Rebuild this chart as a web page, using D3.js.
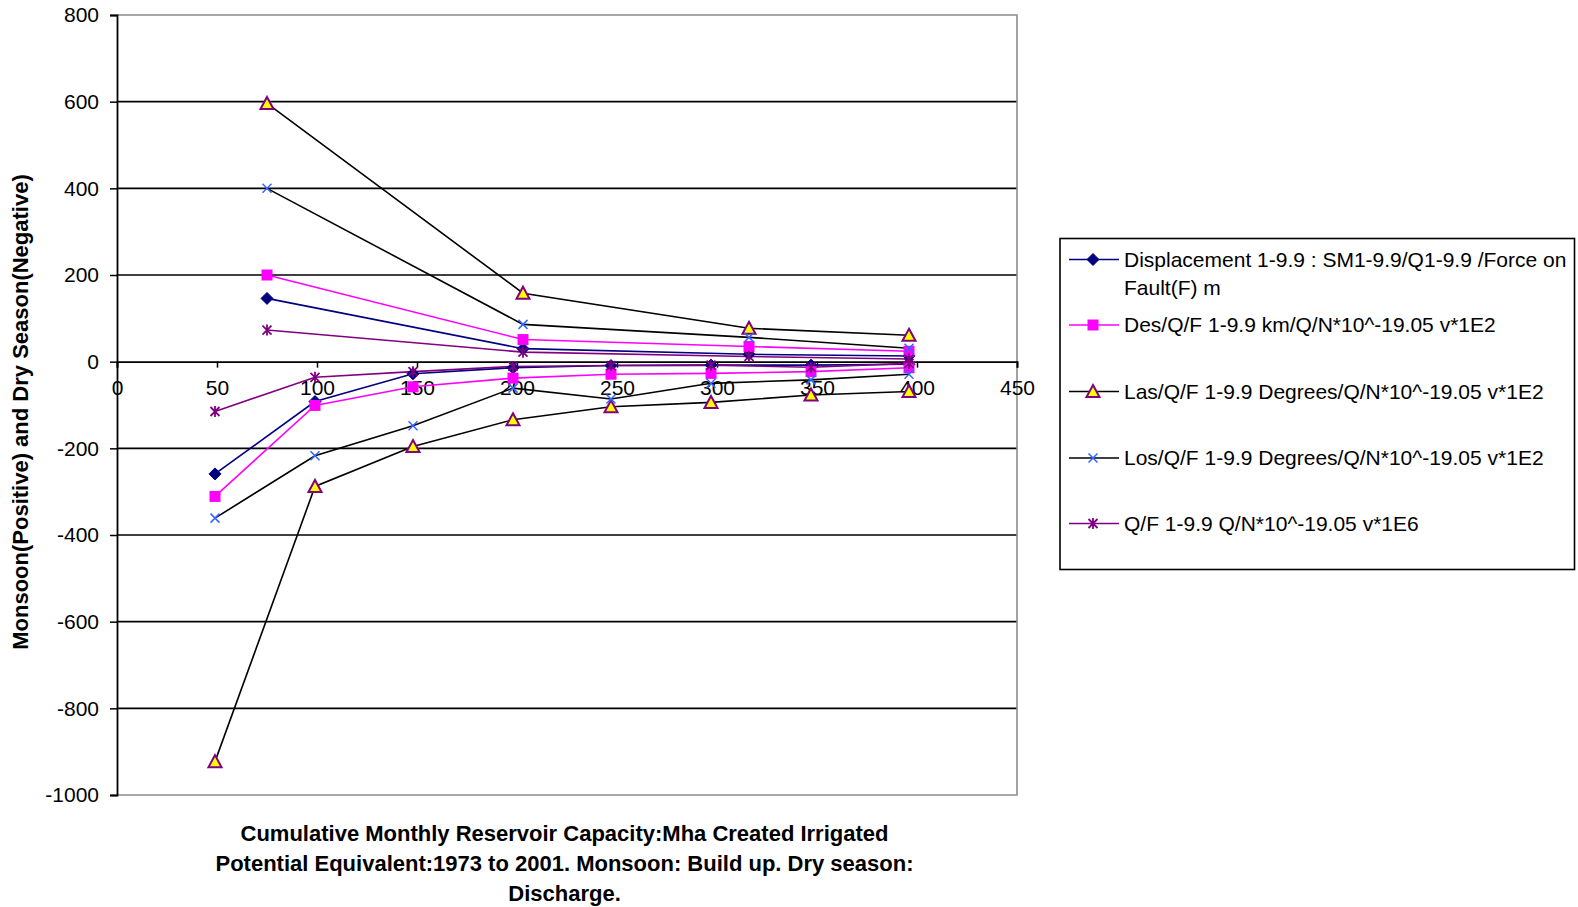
<!DOCTYPE html>
<html>
<head>
<meta charset="utf-8">
<script src="https://cdn.jsdelivr.net/npm/d3@7"></script>
<style>
body { margin:0; background:#fff; }
svg text { font-family:'Liberation Sans', Arial, sans-serif; }
</style>
</head>
<body>
<div id="chart"></div>
<script>
// x positions of the monsoon (build up) and dry season (discharge) points
var monsoonX = [75, 203, 316, 396]
var dryX     = [49, 99, 148, 198, 247, 297, 347, 396]

var dispMonsoon = [146, 30, 17, 13]
var dispDry     = [-259, -92, -28, -14, -9, -8, -8, -6]
var desMonsoon  = [200, 51, 35, 24]
var desDry      = [-311, -101, -58, -38, -29, -27, -23, -14]
var lasMonsoon  = [596, 158, 77, 61]
var lasDry      = [-923, -288, -196, -134, -104, -94, -77, -69]
var losMonsoon  = [400, 86, 56, 31]
var losDry      = [-361, -217, -148, -61, -86, -50, -42, -29]
var qfMonsoon   = [73, 22, 12, 6]
var qfDry       = [-115, -36, -23, -11, -9, -8, -13, -4]

var names = [
	['Displacement 1-9.9 : SM1-9.9/Q1-9.9 /Force on', 'Fault(F) m'],
	['Des/Q/F 1-9.9 km/Q/N*10^-19.05 v*1E2'],
	['Las/Q/F 1-9.9 Degrees/Q/N*10^-19.05 v*1E2'],
	['Los/Q/F 1-9.9 Degrees/Q/N*10^-19.05 v*1E2'],
	['Q/F 1-9.9 Q/N*10^-19.05 v*1E6']
]

var xTicks = [0, 50, 100, 150, 200, 250, 300, 350, 400, 450]
var yTicks = [800, 600, 400, 200, 0, -200, -400, -600, -800, -1000]

var xTitle = ['Cumulative Monthly Reservoir Capacity:Mha Created Irrigated',
              'Potential Equivalent:1973 to 2001. Monsoon: Build up. Dry season:',
              'Discharge.']
var yTitle = 'Monsoon(Positive) and Dry Season(Negative)'

var series = [
	{mon: dispMonsoon, dry: dispDry, line: '#000080', marker: 'diamond'},
	{mon: desMonsoon,  dry: desDry,  line: '#ff00ff', marker: 'square'},
	{mon: lasMonsoon,  dry: lasDry,  line: '#000000', marker: 'triangle'},
	{mon: losMonsoon,  dry: losDry,  line: '#000000', marker: 'cross'},
	{mon: qfMonsoon,   dry: qfDry,   line: '#800080', marker: 'star'}
]

var W = 1578, H = 907
var pLeft = 117, pRight = 1017, pTop = 15, pBottom = 795

var x = d3.scaleLinear().domain([0,450]).range([pLeft,pRight])
var y = d3.scaleLinear().domain([-1000,800]).range([pBottom,pTop])

var svg = d3.select('#chart').append('svg')
            .attr('width', W)
            .attr('height', H)

function drawMarker(g, type, cx, cy){
	if (type === 'diamond') {
		g.append('path').attr('d', 'M'+cx+','+(cy-6)+'L'+(cx+6)+','+cy+'L'+cx+','+(cy+6)+'L'+(cx-6)+','+cy+'Z')
		 .style('fill','#000080').style('stroke','#000080').style('stroke-width',1)
	}
	if (type === 'square') {
		g.append('rect').attr('x',cx-5.5).attr('y',cy-5.5).attr('width',11).attr('height',11)
		 .style('fill','#ff00ff')
	}
	if (type === 'triangle') {
		g.append('path').attr('d', 'M'+cx+','+(cy-6.5)+'L'+(cx+6.5)+','+(cy+5.5)+'L'+(cx-6.5)+','+(cy+5.5)+'Z')
		 .style('fill','#ffff00').style('stroke','#800080').style('stroke-width',2)
	}
	if (type === 'cross') {
		g.append('path').attr('d', 'M'+(cx-4.5)+','+(cy-4.5)+'L'+(cx+4.5)+','+(cy+4.5)+'M'+(cx+4.5)+','+(cy-4.5)+'L'+(cx-4.5)+','+(cy+4.5))
		 .style('fill','none').style('stroke','#3366ff').style('stroke-width',1.5)
	}
	if (type === 'star') {
		g.append('path').attr('d', 'M'+(cx-4.5)+','+(cy-4.5)+'L'+(cx+4.5)+','+(cy+4.5)+'M'+(cx+4.5)+','+(cy-4.5)+'L'+(cx-4.5)+','+(cy+4.5)+'M'+cx+','+(cy-5.5)+'L'+cx+','+(cy+5.5))
		 .style('fill','none').style('stroke','#800080').style('stroke-width',1.8)
	}
}

// gridlines
var grid = svg.append('g').attr('class','grid')
yTicks.forEach((e,i,a)=>{
	if (e === 800 || e === -1000 || e === 0) return
	grid.append('line').attr('x1',pLeft).attr('x2',pRight).attr('y1',y(e)).attr('y2',y(e))
	    .style('stroke','#000').style('stroke-width',1.6)
})

// plot border (grey)
svg.append('path')
   .attr('d','M'+pLeft+','+pTop+'H'+pRight+'V'+pBottom+'H'+pLeft)
   .style('fill','none').style('stroke','#8c8c8c').style('stroke-width',1.6)

// y axis
var yAxis = svg.append('g').attr('transform','translate('+pLeft+',0)')
	.call(d3.axisLeft(y).tickValues(yTicks).tickFormat(d=>String(d)).tickSize(7).tickPadding(11))
yAxis.select('.domain').style('stroke','#000').style('stroke-width',1.8)
yAxis.selectAll('.tick line').style('stroke','#000').style('stroke-width',1.5)
yAxis.selectAll('text').style('font-size','21px').style('fill','#000')

// x axis crosses at 0
var xAxis = svg.append('g').attr('transform','translate(0,'+y(0)+')')
	.call(d3.axisBottom(x).tickValues(xTicks).tickFormat(d=>String(d)).tickSize(6).tickPadding(12))
xAxis.select('.domain').style('stroke','#000').style('stroke-width',1.8)
xAxis.selectAll('.tick line').style('stroke','#000').style('stroke-width',1.5)
xAxis.selectAll('text').style('font-size','21px').style('fill','#000')

// series
var line = d3.line().x(d=>x(d[0])).y(d=>y(d[1]))
var plot = svg.append('g').attr('class','series')
series.forEach((s,i,a)=>{
	var g = plot.append('g')
	var mon = monsoonX.map((e,j)=>[e, s.mon[j]])
	var dry = dryX.map((e,j)=>[e, s.dry[j]])
	;[mon, dry].forEach(pts=>{
		g.append('path').datum(pts).attr('d',line)
		 .style('fill','none').style('stroke',s.line).style('stroke-width',1.6)
	})
})
series.forEach((s,i,a)=>{
	var g = plot.append('g')
	monsoonX.forEach((e,j)=>drawMarker(g, s.marker, x(e), y(s.mon[j])))
	dryX.forEach((e,j)=>drawMarker(g, s.marker, x(e), y(s.dry[j])))
})

// legend
var legend = svg.append('g').attr('class','legend')
legend.append('rect').attr('x',1060).attr('y',238.5).attr('width',514.5).attr('height',331)
      .style('fill','#fff').style('stroke','#000').style('stroke-width',1.6)
var legendY = [259.5, 325, 391.5, 458, 523.5]
series.forEach((s,i,a)=>{
	var ly = legendY[i]
	legend.append('line').attr('x1',1069).attr('x2',1119).attr('y1',ly).attr('y2',ly)
	      .style('stroke',s.line).style('stroke-width',1.6)
	drawMarker(legend, s.marker, 1093, ly)
	names[i].forEach((t,j)=>{
		legend.append('text').attr('x',1124).attr('y',ly + j*28.5).attr('dy','0.35em')
		      .style('font-size','21px').text(t)
	})
})

// axis titles
var xt = svg.append('g').attr('class','x-title')
xTitle.forEach((t,i)=>{
	xt.append('text').attr('x',564.5).attr('y',833 + i*30).attr('dy','0.35em')
	  .attr('text-anchor','middle').style('font-size','22px').style('font-weight','bold')
	  .text(t)
})
svg.append('text')
   .attr('transform','translate(20,412) rotate(-90)')
   .attr('text-anchor','middle').attr('dy','0.35em')
   .style('font-size','22px').style('font-weight','bold')
   .text(yTitle)
</script>
</body>
</html>
